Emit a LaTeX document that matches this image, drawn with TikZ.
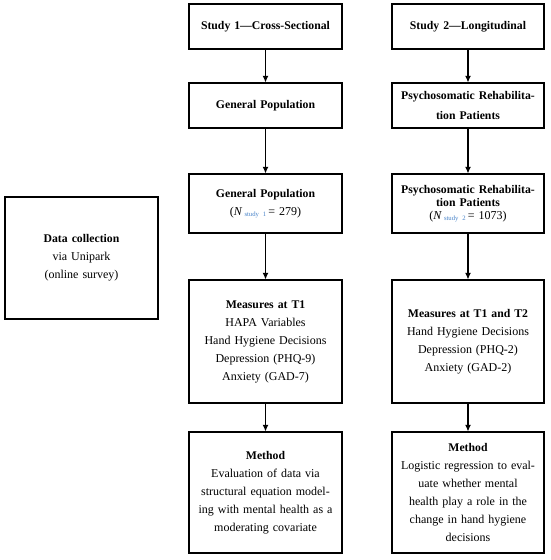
\documentclass[tikz,border=0pt]{standalone}
\usepackage{fontspec}
\setmainfont{Liberation Serif}
\usetikzlibrary{arrows.meta}
\definecolor{subblue}{RGB}{70,130,200}
\newcommand{\bt}[1]{{\fontsize{8.8}{13.5}\selectfont\bfseries #1}}
\tikzset{
  box/.style={draw=black, line width=0.8pt, rectangle, align=center, inner sep=0pt,
    text width=146*0.75pt, font=\fontsize{9}{13.5}\selectfont},
  arr/.style={line width=0.8pt, -{Latex[length=5pt,width=4.5pt]}}
}
\newcommand{\Nsub}[2]{(\textit{N}\,\raisebox{-0.8pt}{\color{subblue}\fontsize{5}{6}\selectfont #1}\,= #2)}
\begin{document}
\begin{tikzpicture}[x=0.75pt,y=-0.75pt]
\useasboundingbox (0,0) rectangle (550,560);
% left column
\node[box, minimum width=153*0.75pt, minimum height=45*0.75pt] (a1) at (265.5,26.5) {\bt{Study 1—Cross-Sectional}};
\node[box, minimum width=153*0.75pt, minimum height=45*0.75pt] (a2) at (265.5,105.5) {\bt{General Population}};
\node[box, minimum width=153*0.75pt, minimum height=59*0.75pt] (a3) at (265.5,203.5) {\bt{General Population}\\\Nsub{study 1}{279}};
\node[box, minimum width=153*0.75pt, minimum height=123*0.75pt] (a4) at (265.5,341.5) {\bt{Measures at T1}\\HAPA Variables\\Hand Hygiene Decisions\\Depression (PHQ-9)\\Anxiety (GAD-7)};
\node[box, minimum width=153*0.75pt, minimum height=121*0.75pt] (a5) at (265.5,492.5) {\bt{Method}\\Evaluation of data via\\structural equation model-\\ing with mental health as a\\moderating covariate};
% right column
\node[box, minimum width=152*0.75pt, minimum height=45*0.75pt, font=\fontsize{9}{15}\selectfont] (b1) at (468,26.5) {\bt{Study 2—Longitudinal}};
\node[box, minimum width=152*0.75pt, minimum height=45*0.75pt, font=\fontsize{9}{15}\selectfont] (b2) at (468,105.5) {\bt{Psychosomatic Rehabilita-}\\\bt{tion Patients}};
\node[box, minimum width=152*0.75pt, minimum height=59*0.75pt, font=\fontsize{9}{9.8}\selectfont] (b3) at (468,203.5) {\bt{Psychosomatic Rehabilita-}\\\bt{tion Patients}\\\Nsub{study 2}{1073}};
\node[box, minimum width=152*0.75pt, minimum height=123*0.75pt] (b4) at (468,341.5) {\bt{Measures at T1 and T2}\\Hand Hygiene Decisions\\Depression (PHQ-2)\\Anxiety (GAD-2)};
\node[box, minimum width=152*0.75pt, minimum height=121*0.75pt] (b5) at (468,492.5) {\bt{Method}\\Logistic regression to eval-\\uate whether mental\\health play a role in the\\change in hand hygiene\\decisions};
% data collection
\node[box, minimum width=153*0.75pt, minimum height=122*0.75pt] (dc) at (81.5,258) {\bt{Data collection}\\via Unipark\\(online survey)};
% arrows
\draw[arr] (a1) -- (a2);
\draw[arr] (a2) -- (a3);
\draw[arr] (a3) -- (a4);
\draw[arr] (a4) -- (a5);
\draw[arr] (b1) -- (b2);
\draw[arr] (b2) -- (b3);
\draw[arr] (b3) -- (b4);
\draw[arr] (b4) -- (b5);
\end{tikzpicture}
\end{document}
